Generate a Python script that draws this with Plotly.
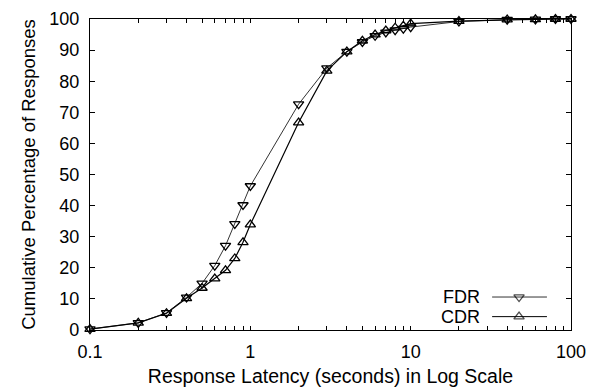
import plotly.graph_objects as go

latency = [0.1, 0.2, 0.3, 0.4, 0.5, 0.6, 0.7, 0.8, 0.9, 1, 2, 3, 4, 5, 6, 7, 8, 9, 10, 20, 40, 60, 80, 100]
fdr = [0.3, 2.3, 5.5, 10.5, 15.0, 20.7, 27.1, 34.1, 40.2, 46.3, 72.6, 84.2, 89.5, 92.6, 94.6, 95.7, 96.4, 96.9, 97.4, 99.2, 99.8, 99.9, 100, 100]
cdr = [0.3, 2.3, 5.4, 10.2, 13.5, 16.5, 19.2, 23.0, 28.2, 33.9, 66.7, 83.3, 89.5, 93.0, 95.0, 96.3, 97.2, 97.8, 98.5, 99.3, 99.8, 99.9, 100, 100]
series_names = ["FDR", "CDR"]
x_major_vals = [0.1, 1, 10, 100]
x_major_text = ["0.1", "1", "10", "100"]
x_minor_vals = [m * d for d in (0.1, 1, 10) for m in range(2, 10)]
y_tick_vals = [0, 10, 20, 30, 40, 50, 60, 70, 80, 90, 100]

x_tick_vals = x_major_vals + x_minor_vals
x_tick_text = x_major_text + [""] * len(x_minor_vals)

FONT = "Liberation Sans, Arial, Helvetica, sans-serif"

fig = go.Figure()
fig.add_trace(go.Scatter(
    x=latency, y=fdr, mode="lines+markers", name=series_names[0],
    line=dict(color="#333333", width=1),
    marker=dict(symbol="triangle-down-open", size=9, color="black", line=dict(width=1.3, color="black")),
    cliponaxis=False, showlegend=False))
fig.add_trace(go.Scatter(
    x=latency, y=cdr, mode="lines+markers", name=series_names[1],
    line=dict(color="black", width=1.2),
    marker=dict(symbol="triangle-up-open", size=9, color="black", line=dict(width=1.3, color="black")),
    cliponaxis=False, showlegend=False))

# custom legend (text left of sample, as in reference)
leg_y = [0.106, 0.043]
leg_sym = ["triangle-down-open", "triangle-up-open"]
leg_col = ["#333333", "black"]
for i in range(2):
    fig.add_trace(go.Scatter(
        x=[0.836, 0.892, 0.950], y=[leg_y[i]] * 3, xaxis="x2", yaxis="y2",
        mode="lines+markers", line=dict(color=leg_col[i], width=1),
        marker=dict(symbol=leg_sym[i], size=[0, 9, 0], color="black", line=dict(width=1.3, color="black")),
        showlegend=False, hoverinfo="skip", cliponaxis=False))
    fig.add_annotation(x=0.815, y=leg_y[i], xref="paper", yref="paper", text=series_names[i],
                       showarrow=False, xanchor="right", yanchor="middle",
                       font=dict(family=FONT, size=18, color="black"))

fig.update_layout(
    width=592, height=387,
    margin=dict(l=90, r=21, t=19, b=57),
    paper_bgcolor="white", plot_bgcolor="white",
    font=dict(family=FONT, size=18, color="black"),
    xaxis=dict(
        type="log", range=[-1, 2], automargin=False,
        tickmode="array", tickvals=x_tick_vals, ticktext=x_tick_text,
        ticks="inside", ticklen=4, tickwidth=1, tickcolor="black",
        showline=True, linecolor="black", linewidth=1.3, mirror="allticks",
        showgrid=False, zeroline=False, ticklabelstandoff=5,
        title=dict(text="Response Latency (seconds) in Log Scale", font=dict(size=19.5)),
        tickfont=dict(size=18),
    ),
    yaxis=dict(
        range=[0, 100], tickvals=y_tick_vals, automargin=False,
        ticks="inside", ticklen=5, tickwidth=1, tickcolor="black",
        showline=True, linecolor="black", linewidth=1.3, mirror="allticks",
        showgrid=False, zeroline=False, ticklabelstandoff=6,
        title=dict(text="Cumulative Percentage of Responses", font=dict(size=18.5), standoff=8),
        tickfont=dict(size=18),
    ),
    xaxis2=dict(overlaying="x", range=[0, 1], visible=False, fixedrange=True),
    yaxis2=dict(overlaying="y", range=[0, 1], visible=False, fixedrange=True),
)

fig.write_html("out.html")
